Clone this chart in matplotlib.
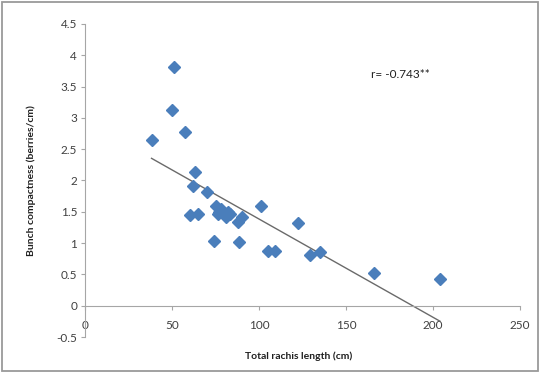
import numpy as np
import matplotlib
matplotlib.use("Agg")
import matplotlib.pyplot as plt
from matplotlib.patches import Rectangle

# rachis length (cm) vs bunch compactness (berries/cm)
rachis_length = [38, 50, 51, 57, 60, 62, 63, 65, 70, 74, 75, 76, 77, 78,
                 81, 82, 83, 88, 88.5, 90, 101, 105, 109, 122, 129, 135, 166, 204]
compactness = [2.65, 3.12, 3.81, 2.77, 1.45, 1.92, 2.13, 1.47, 1.81, 1.04, 1.59, 1.46, 1.50, 1.55,
               1.42, 1.50, 1.46, 1.33, 1.02, 1.42, 1.60, 0.88, 0.88, 1.32, 0.81, 0.86, 0.53, 0.42]
x_ticks = [0, 50, 100, 150, 200, 250]
y_ticks = [-0.5, 0, 0.5, 1, 1.5, 2, 2.5, 3, 3.5, 4, 4.5]
r_text = "r= -0.743**"

plt.rcParams['font.family'] = ['Lato', 'DejaVu Sans']

fig = plt.figure(figsize=(5.4, 3.73), dpi=100)
ax = fig.add_axes([0.1583, 0.0965, 0.8047, 0.8392])

x = np.array(rachis_length)
y = np.array(compactness)

# linear trend line over the data range
k, b = np.polyfit(x, y, 1)
xl = np.array([x.min(), x.max()])
ax.plot(xl, k * xl + b, color='#6a6a6a', lw=1)

ax.plot(x, y, 'D', color='#4a7ebb', ms=6, mec='#4a7ebb')

ax.set_xlim(0, 250)
ax.set_ylim(-0.5, 4.5)
ax.set_xticks(x_ticks)
ax.set_yticks(y_ticks)
ax.set_yticklabels([('%g' % v) for v in y_ticks])

ax.spines['top'].set_visible(False)
ax.spines['right'].set_visible(False)
ax.spines['bottom'].set_position(('data', 0))
for s in ('left', 'bottom'):
    ax.spines[s].set_color('#a6a6a6')
    ax.spines[s].set_linewidth(0.8)

ax.tick_params(axis='x', direction='out', length=3, width=0.8, color='#a6a6a6',
               labelsize=8.5, labelcolor='#404040', pad=7.5)
ax.tick_params(axis='y', direction='out', length=3, width=0.8, color='#a6a6a6',
               labelsize=8.5, labelcolor='#404040', pad=3)

ax.set_xlabel('Total rachis length (cm)', fontsize=7.5, fontweight='bold', color='#202020')
ax.xaxis.set_label_coords(0.49, -0.045)
ax.set_ylabel('Bunch compactness (berries/cm)', fontsize=7.5, fontweight='bold', color='#202020')
ax.yaxis.set_label_coords(-0.115, 0.5)

ax.text(164.5, 3.69, r_text, fontsize=8.5, color='#202020', va='center')

fig.patches.append(Rectangle((0.004, 0.005), 0.992, 0.99, transform=fig.transFigure,
                             fill=False, ec='#9a9a9a', lw=1.3))

fig.savefig('out.png', dpi=100)
